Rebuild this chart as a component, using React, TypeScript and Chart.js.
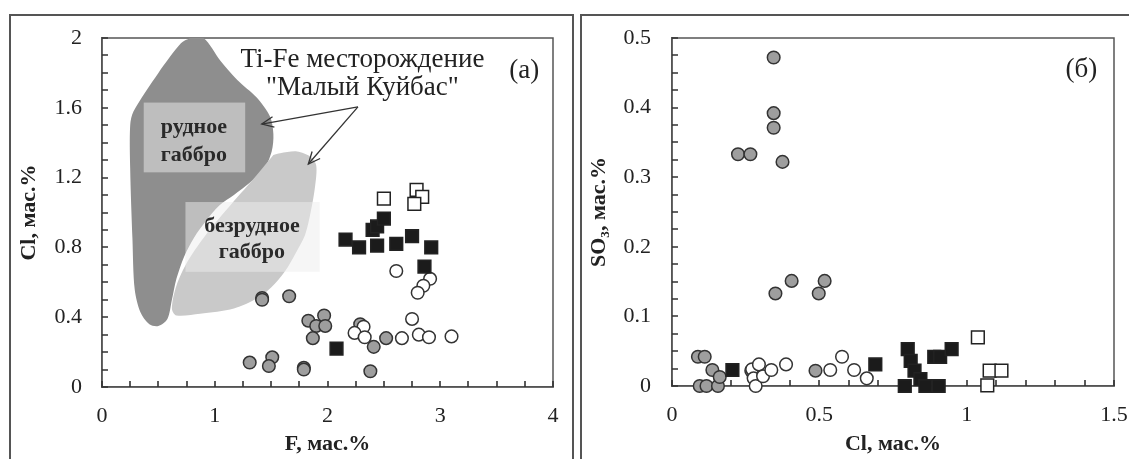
import React, { useEffect, useRef } from 'react';
import { Chart, registerables } from 'chart.js';

Chart.register(...registerables);

// ---------- Panel (a): F vs Cl ----------
const A_X_TICK_LABELS = [0, 1, 2, 3, 4];
const A_Y_TICK_LABELS = [0, 0.4, 0.8, 1.2, 1.6, 2];

// ore gabbro field (dark)
const ORE_FIELD_F = [0.78, 0.9, 1.05, 1.2, 1.37, 1.49, 1.52, 1.505, 1.43, 1.31, 1.17, 1.04, 0.92, 0.82, 0.73, 0.66, 0.62, 0.58, 0.5, 0.42, 0.34, 0.29, 0.27, 0.25, 0.25, 0.28, 0.5, 0.7, 0.78];
const ORE_FIELD_CL = [2.0, 2.0, 1.87, 1.76, 1.66, 1.55, 1.45, 1.35, 1.24, 1.17, 1.1, 1.04, 0.95, 0.86, 0.75, 0.62, 0.5, 0.39, 0.35, 0.36, 0.43, 0.56, 0.85, 1.25, 1.5, 1.58, 1.8, 1.97, 2.0];
// barren gabbro field (light)
const BARREN_FIELD_F = [1.52, 1.58, 1.73, 1.85, 1.9, 1.89, 1.85, 1.8, 1.72, 1.62, 1.5, 1.38, 1.17, 0.87, 0.66, 0.62, 0.66, 0.76, 0.93, 1.15, 1.3, 1.43, 1.52];
const BARREN_FIELD_CL = [1.33, 1.34, 1.35, 1.32, 1.27, 1.15, 1.0, 0.87, 0.77, 0.66, 0.57, 0.51, 0.45, 0.42, 0.41, 0.45, 0.58, 0.72, 0.88, 1.05, 1.16, 1.26, 1.33];

const A_GRAY_F = [1.42, 1.42, 1.66, 1.83, 1.97, 1.9, 1.98, 1.87, 2.29, 2.41, 2.52, 1.31, 1.51, 1.48, 1.79, 1.79, 2.38];
const A_GRAY_CL = [0.51, 0.5, 0.52, 0.38, 0.41, 0.35, 0.35, 0.28, 0.36, 0.23, 0.28, 0.14, 0.17, 0.12, 0.11, 0.1, 0.09];
const A_OPEN_F = [2.61, 2.91, 2.85, 2.8, 2.75, 2.32, 2.24, 2.33, 2.66, 2.81, 2.9, 3.1];
const A_OPEN_CL = [0.665, 0.62, 0.58, 0.54, 0.39, 0.345, 0.31, 0.285, 0.28, 0.3, 0.285, 0.29];
const A_BLACK_SQ_F = [2.16, 2.28, 2.4, 2.44, 2.5, 2.44, 2.61, 2.75, 2.92, 2.86, 2.08];
const A_BLACK_SQ_CL = [0.845, 0.8, 0.9, 0.92, 0.965, 0.81, 0.82, 0.865, 0.8, 0.69, 0.22];
const A_OPEN_SQ_F = [2.5, 2.79, 2.84, 2.77];
const A_OPEN_SQ_CL = [1.08, 1.13, 1.09, 1.05];

// ---------- Panel (б): Cl vs SO3 ----------
const B_X_TICK_LABELS = [0, 0.5, 1, 1.5];
const B_Y_TICK_LABELS = [0, 0.1, 0.2, 0.3, 0.4, 0.5];

const B_GRAY_CL = [0.345, 0.345, 0.345, 0.224, 0.266, 0.375, 0.351, 0.406, 0.498, 0.518, 0.088, 0.111, 0.137, 0.094, 0.117, 0.156, 0.162, 0.269, 0.487];
const B_GRAY_SO3 = [0.472, 0.392, 0.371, 0.333, 0.333, 0.322, 0.133, 0.151, 0.133, 0.151, 0.042, 0.042, 0.023, 0.0, 0.0, 0.0, 0.013, 0.022, 0.022];
const B_OPEN_CL = [0.272, 0.277, 0.284, 0.295, 0.309, 0.337, 0.387, 0.537, 0.577, 0.618, 0.661];
const B_OPEN_SO3 = [0.024, 0.011, 0.0, 0.031, 0.014, 0.023, 0.031, 0.023, 0.042, 0.023, 0.011];
const B_BLACK_SQ_CL = [0.205, 0.69, 0.8, 0.81, 0.823, 0.843, 0.79, 0.86, 0.905, 0.89, 0.91, 0.949];
const B_BLACK_SQ_SO3 = [0.023, 0.031, 0.053, 0.036, 0.022, 0.01, 0.0, 0.0, 0.0, 0.042, 0.042, 0.053];
const B_OPEN_SQ_CL = [1.038, 1.078, 1.118, 1.07];
const B_OPEN_SQ_SO3 = [0.07, 0.022, 0.022, 0.001];

// minor tick spacing of each axis
const A_X_MINOR_STEP = 0.25;
const A_Y_MINOR_STEP = 0.1;
const B_X_MINOR_STEP = 0.1;
const B_Y_MINOR_STEP = 0.025;

const SERIF = '"Liberation Serif", "Times New Roman", serif';
const INK = '#222';

const pts = (xs: number[], ys: number[]) => xs.map((x, i) => ({ x, y: ys[i] }));

const fmt = (v: number) => String(Number(v.toFixed(3)));

function makeScale(opts: {
  axis: 'x' | 'y'; min: number; max: number; step: number; labels: number[];
  title: string; labelPad: number; titlePad: any; size: number;
}) {
  return {
    type: 'linear',
    min: opts.min,
    max: opts.max,
    ticks: {
      stepSize: opts.step,
      maxTicksLimit: 200,
      autoSkip: false,
      maxRotation: 0,
      minRotation: 0,
      color: INK,
      padding: opts.labelPad,
      font: { family: SERIF, size: 22 },
      callback: (v: any) => {
        const n = Number(v);
        return opts.labels.some((l) => Math.abs(l - n) < 1e-6) ? fmt(n) : '';
      },
    },
    grid: { display: false, drawTicks: false },
    border: { display: true, color: '#555', width: 1.5 },
    title: {
      display: true,
      text: opts.title,
      color: INK,
      font: { family: SERIF, size: 22, weight: 'bold' },
      padding: opts.titlePad,
    },
    afterFit: (s: any) => {
      if (opts.axis === 'x') s.height = opts.size;
      else s.width = opts.size;
    },
  };
}

// plot frame + inward tick marks, positioned through the chart's scales
function makeFrame(xStep: number, yStep: number) {
  return {
    id: 'frame',
    beforeDatasetsDraw(chart: any) {
      const { ctx, chartArea: a } = chart;
      const xs = chart.scales.x;
      const ys = chart.scales.y;
      ctx.save();
      ctx.strokeStyle = '#555';
      ctx.lineWidth = 1.5;
      ctx.strokeRect(a.left, a.top, a.right - a.left, a.bottom - a.top);
      ctx.strokeStyle = '#333';
      ctx.lineWidth = 1.6;
      const TL = 6;
      ctx.beginPath();
      const nx = Math.round((xs.max - xs.min) / xStep);
      for (let i = 0; i <= nx; i++) {
        const px = Math.round(xs.getPixelForValue(xs.min + i * xStep));
        ctx.moveTo(px, a.bottom);
        ctx.lineTo(px, a.bottom - TL);
      }
      const ny = Math.round((ys.max - ys.min) / yStep);
      for (let i = 0; i <= ny; i++) {
        const py = Math.round(ys.getPixelForValue(ys.min + i * yStep));
        ctx.moveTo(a.left, py);
        ctx.lineTo(a.left + TL, py);
      }
      ctx.stroke();
      ctx.restore();
    },
  };
}

function arrow(ctx: CanvasRenderingContext2D, x1: number, y1: number, x2: number, y2: number) {
  ctx.beginPath();
  ctx.moveTo(x1, y1);
  ctx.lineTo(x2, y2);
  ctx.stroke();
  const ang = Math.atan2(y1 - y2, x1 - x2);
  const L = 13;
  const spread = 0.42;
  ctx.beginPath();
  ctx.moveTo(x2 + L * Math.cos(ang + spread), y2 + L * Math.sin(ang + spread));
  ctx.lineTo(x2, y2);
  ctx.lineTo(x2 + L * Math.cos(ang - spread), y2 + L * Math.sin(ang - spread));
  ctx.stroke();
}

const annotA = {
  id: 'annotA',
  afterDatasetsDraw(chart: any) {
    const { ctx } = chart;
    const X = (v: number) => chart.scales.x.getPixelForValue(v);
    const Y = (v: number) => chart.scales.y.getPixelForValue(v);
    ctx.save();
    ctx.fillStyle = 'rgba(238,238,238,0.5)';
    ctx.fillRect(X(0.37), Y(1.63), X(1.27) - X(0.37), Y(1.23) - Y(1.63));
    ctx.fillRect(X(0.74), Y(1.06), X(1.93) - X(0.74), Y(0.66) - Y(1.06));
    ctx.fillStyle = '#2a2a2a';
    ctx.textAlign = 'center';
    ctx.textBaseline = 'middle';
    ctx.font = `bold 22px ${SERIF}`;
    ctx.fillText('рудное', X(0.815), Y(1.49));
    ctx.fillText('габбро', X(0.815), Y(1.33));
    ctx.fillText('безрудное', X(1.33), Y(0.92));
    ctx.fillText('габбро', X(1.33), Y(0.77));
    ctx.fillStyle = INK;
    ctx.font = `27px ${SERIF}`;
    ctx.fillText('Ti-Fe месторождение', X(2.31), Y(1.875));
    ctx.fillText('"Малый Куйбас"', X(2.31), Y(1.715));
    ctx.fillText('(a)', X(3.745), Y(1.81));
    ctx.strokeStyle = '#333';
    ctx.lineWidth = 1.3;
    arrow(ctx, X(2.27), Y(1.605), X(1.417), Y(1.507));
    arrow(ctx, X(2.27), Y(1.605), X(1.83), Y(1.278));
    ctx.restore();
  },
};

const annotB = {
  id: 'annotB',
  afterDatasetsDraw(chart: any) {
    const { ctx } = chart;
    const X = (v: number) => chart.scales.x.getPixelForValue(v);
    const Y = (v: number) => chart.scales.y.getPixelForValue(v);
    ctx.save();
    ctx.fillStyle = INK;
    ctx.textAlign = 'center';
    ctx.textBaseline = 'middle';
    ctx.font = `27px ${SERIF}`;
    ctx.fillText('(б)', X(1.389), Y(0.4536));
    ctx.restore();
  },
};

const circleStyle = (fill: string) => ({
  pointStyle: 'circle',
  pointRadius: 6.3,
  pointBackgroundColor: fill,
  pointBorderColor: '#333',
  pointBorderWidth: 1.5,
  clip: false as any,
});
const squareStyle = (fill: string) => ({
  pointStyle: 'rect',
  pointRadius: 9,
  pointBackgroundColor: fill,
  pointBorderColor: '#222',
  pointBorderWidth: 1.5,
  clip: false as any,
});

function pointSets(
  gx: number[], gy: number[], ox: number[], oy: number[],
  bx: number[], by: number[], sx: number[], sy: number[],
) {
  // first dataset is drawn on top
  return [
    { label: 'open squares', data: pts(sx, sy), ...squareStyle('#ffffff') },
    { label: 'black squares', data: pts(bx, by), ...squareStyle('#1b1b1b') },
    { label: 'open circles', data: pts(ox, oy), ...circleStyle('#ffffff') },
    { label: 'gray circles', data: pts(gx, gy), ...circleStyle('#9e9e9e') },
  ];
}

export default function App() {
  const refA = useRef<HTMLCanvasElement>(null);
  const refB = useRef<HTMLCanvasElement>(null);

  useEffect(() => {
    const chartA = new Chart(refA.current as HTMLCanvasElement, {
      type: 'scatter',
      data: {
        datasets: [
          ...pointSets(A_GRAY_F, A_GRAY_CL, A_OPEN_F, A_OPEN_CL, A_BLACK_SQ_F, A_BLACK_SQ_CL, A_OPEN_SQ_F, A_OPEN_SQ_CL),
          {
            type: 'line',
            label: 'безрудное габбро',
            data: pts(BARREN_FIELD_F, BARREN_FIELD_CL),
            borderWidth: 0,
            pointRadius: 0,
            tension: 0.3,
            fill: 'shape',
            backgroundColor: '#c9c9c9',
          } as any,
          {
            type: 'line',
            label: 'рудное габбро',
            data: pts(ORE_FIELD_F, ORE_FIELD_CL),
            borderWidth: 0,
            pointRadius: 0,
            tension: 0.3,
            fill: 'shape',
            backgroundColor: '#8e8e8e',
          } as any,
        ] as any,
      },
      options: {
        responsive: false,
        animation: false,
        events: [],
        layout: { padding: { left: 0, top: 38, right: 24, bottom: 0 } },
        plugins: { legend: { display: false }, tooltip: { enabled: false } },
        scales: {
          x: makeScale({ axis: 'x', min: 0, max: 4, step: 0.25, labels: A_X_TICK_LABELS, title: 'F, мас.%', labelPad: 16, titlePad: { top: 0, bottom: 1 }, size: 72 }) as any,
          y: makeScale({ axis: 'y', min: 0, max: 2, step: 0.1, labels: A_Y_TICK_LABELS, title: 'Cl, мас.%', labelPad: 20, titlePad: { top: 16, bottom: 0 }, size: 102 }) as any,
        },
      },
      plugins: [makeFrame(A_X_MINOR_STEP, A_Y_MINOR_STEP), annotA],
    });

    const chartB = new Chart(refB.current as HTMLCanvasElement, {
      type: 'scatter',
      data: {
        datasets: pointSets(B_GRAY_CL, B_GRAY_SO3, B_OPEN_CL, B_OPEN_SO3, B_BLACK_SQ_CL, B_BLACK_SQ_SO3, B_OPEN_SQ_CL, B_OPEN_SQ_SO3) as any,
      },
      options: {
        responsive: false,
        animation: false,
        events: [],
        layout: { padding: { left: 0, top: 38, right: 35, bottom: 0 } },
        plugins: { legend: { display: false }, tooltip: { enabled: false } },
        scales: {
          x: makeScale({ axis: 'x', min: 0, max: 1.5, step: 0.1, labels: B_X_TICK_LABELS, title: 'Cl, мас.%', labelPad: 16, titlePad: { top: 0, bottom: 1 }, size: 73 }) as any,
          y: makeScale({ axis: 'y', min: 0, max: 0.5, step: 0.025, labels: B_Y_TICK_LABELS, title: 'SO₃, мас.%', labelPad: 21, titlePad: { top: 9, bottom: 0 }, size: 95 }) as any,
        },
      },
      plugins: [makeFrame(B_X_MINOR_STEP, B_Y_MINOR_STEP), annotB],
    });

    return () => {
      chartA.destroy();
      chartB.destroy();
    };
  }, []);

  return (
    <div style={{ position: 'absolute', left: 0, top: 0, width: 1129, height: 459, overflow: 'hidden', background: '#fff' }}>
      <div style={{ position: 'absolute', left: 9, top: 14, width: 565, height: 500, border: '2px solid #555', boxSizing: 'border-box' }} />
      <div style={{ position: 'absolute', left: 580, top: 14, width: 600, height: 500, border: '2px solid #555', boxSizing: 'border-box' }} />
      <canvas ref={refA} width={577} height={459} style={{ position: 'absolute', left: 0, top: 0 }} />
      <canvas ref={refB} width={572} height={459} style={{ position: 'absolute', left: 577, top: 0 }} />
    </div>
  );
}
